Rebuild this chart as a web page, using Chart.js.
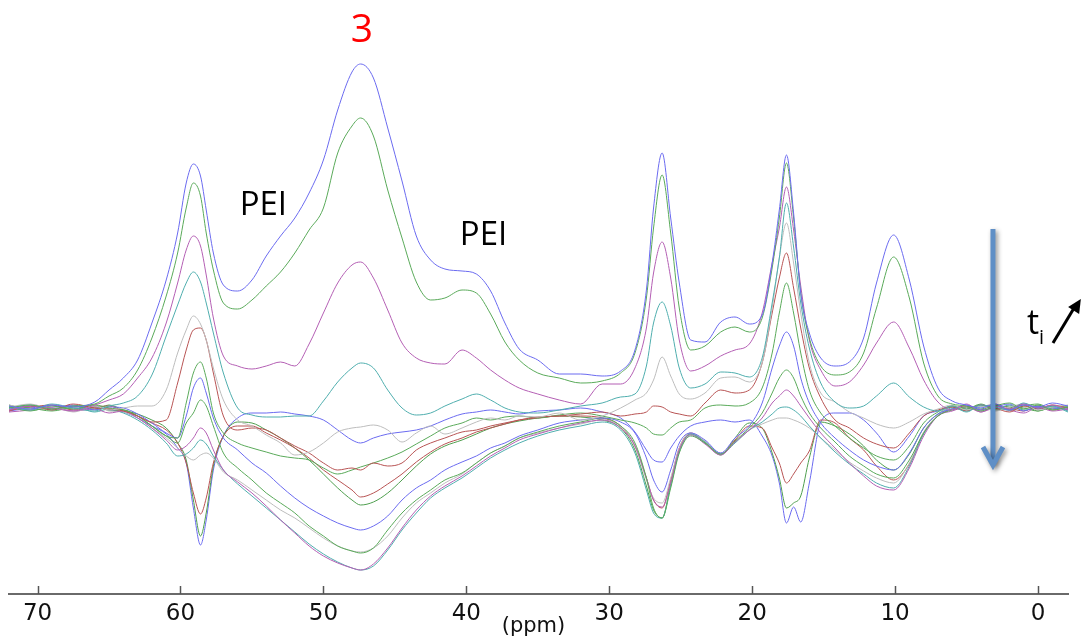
<!DOCTYPE html>
<html>
<head>
<meta charset="utf-8">
<title>13C NMR spectra vs time</title>
<script src="https://cdn.jsdelivr.net/npm/chart.js@4.4.1/dist/chart.umd.min.js"></script>
<style>
    html, body { margin: 0; padding: 0; background: #ffffff; }
    #wrap { width: 1084px; height: 637px; position: relative; }
</style>
</head>
<body>
<div id="wrap"><canvas id="nmrChart"></canvas></div>
<script>
// Chemical shift grid (ppm), shared by every trace
const ppm = [72, 70.5, 69, 67.5, 66, 65, 64, 63, 62, 61,
    60.2, 59.6, 59.1, 58.6, 58.2, 57.7, 57, 56, 55, 54,
    53, 52, 51, 50, 49, 48, 47.4, 46.5, 45.5, 44.5,
    43.5, 42.5, 41.5, 40.3, 39.3, 38.3, 37.3, 36.3, 35, 33.5,
    32, 30.5, 29.2, 28.2, 27.4, 26.9, 26.3, 25.7, 25.1, 24.3,
    23.3, 22.2, 21.2, 20.2, 19.3, 18.6, 18.1, 17.6, 17.1, 16.6,
    16, 15.2, 14.2, 13.2, 12.2, 11.3, 10.1, 9, 8, 7,
    6, 5, 4, 3, 2, 1, 0, -1, -2.1];

// Intensities (arbitrary units), first spectrum on top
const t01 = [2, -1, 3, 1, 6, 18, 30, 48, 85, 128,
    175, 225, 244, 232, 198, 155, 123, 117, 128, 152,
    172, 190, 215, 248, 298, 336, 344, 330, 280, 227,
    172, 148, 139, 137, 134, 117, 85, 59, 48, 34,
    34, 32, 37, 58, 118, 200, 255, 190, 125, 68,
    66, 86, 91, 84, 93, 145, 198, 253, 195, 115,
    75, 50, 42, 46, 70, 125, 173, 128, 62, 20,
    7, 3, 0, 4, -2, 3, 1, 5, 2];
const t02 = [0, 3, -1, 2, 4, 12, 20, 38, 70, 112,
    155, 200, 225, 212, 175, 138, 105, 99, 108, 122,
    136, 155, 178, 200, 255, 282, 290, 272, 218, 170,
    126, 108, 110, 118, 115, 94, 66, 48, 35, 30,
    25, 27, 35, 55, 110, 180, 233, 175, 100, 58,
    62, 76, 81, 76, 90, 140, 190, 245, 190, 115,
    70, 42, 33, 36, 55, 100, 151, 110, 45, 12,
    4, 2, -3, 2, 5, -1, 3, -2, 1];
const t03 = [-2, 2, 0, -3, 3, 8, 14, 30, 50, 85,
    125, 158, 172, 162, 133, 90, 52, 42, 39, 42,
    46, 42, 64, 95, 125, 143, 146, 130, 98, 65,
    50, 45, 44, 58, 50, 38, 28, 20, 14, 8,
    4, 24, 24, 40, 80, 135, 166, 130, 68, 37,
    42, 52, 58, 64, 95, 145, 180, 221, 178, 122,
    68, 38, 22, 26, 43, 65, 86, 60, 28, 6,
    -2, 4, -4, 2, -1, 4, 0, 3, -2];
const t04 = [1, -2, 4, 0, -3, 2, 5, 12, 33, 72,
    103, 125, 136, 126, 105, 75, 35, 0, -7, -9,
    -9, -8, -8, 7, 26, 40, 45, 40, 18, 0,
    -7, -5, 2, 9, 14, 8, 0, -4, -5, -2,
    2, 5, 11, 14, 42, 85, 106, 82, 40, 20,
    24, 36, 35, 31, 50, 105, 150, 205, 161, 105,
    60, 25, 6, 0, 2, 12, 25, 11, 1, -3,
    2, -4, 3, 1, -2, 5, 0, 2, -3];
const t05 = [3, -1, 1, -4, 2, -2, 0, 2, 2, 18,
    55, 78, 92, 84, 68, 40, 8, -12, -18, -27,
    -35, -47, -44, -35, -24, -20, -19, -17, -22, -34,
    -25, -18, -26, -20, -14, -10, -12, -8, -9, -5,
    -12, -8, 0, 8, 15, 28, 51, 32, 14, 9,
    15, 30, 31, 26, 45, 100, 150, 185, 145, 95,
    45, 15, 6, -4, -10, -16, -20, -14, -6, -1,
    3, -2, 2, -3, 1, 4, -2, 1, 3];
const t06 = [-3, 2, -2, 4, 0, -1, -3, -8, -14, -12,
    25, 58, 78, 80, 68, 35, -8, -22, -20, -22,
    -30, -38, -45, -55, -62, -60, -62, -55, -58, -55,
    -42, -35, -30, -24, -22, -18, -15, -12, -9, -8,
    -6, -4, -8, -6, -4, 2, 1, -4, -6, -8,
    5, 18, 15, 18, 45, 95, 130, 155, 120, 80,
    40, 10, -12, -20, -30, -36, -40, -25, -8, -2,
    1, -3, 3, 0, -4, 2, -1, 3, 0];
const t07 = [1, -3, 2, -1, 3, 0, -2, -8, -18, -28,
    -30, 5, 35, 46, 30, -5, -25, -35, -40, -44,
    -48, -50, -52, -60, -66, -62, -59, -55, -50, -44,
    -36, -28, -20, -15, -10, -12, -9, -8, -10, -7,
    -5, -8, -12, -15, -20, -26, -27, -20, -14, -12,
    0, 3, 2, 5, 20, 55, 95, 125, 95, 55,
    18, -5, -18, -30, -40, -48, -52, -38, -15, -4,
    2, -1, 4, -2, 0, 3, -3, 1, 2];
const t08 = [-1, 2, 0, 3, -2, 1, 0, -6, -15, -25,
    -30, -8, 20, 30, 15, -10, -30, -42, -55, -65,
    -78, -90, -100, -108, -115, -120, -122, -118, -108, -92,
    -80, -72, -62, -54, -48, -40, -35, -28, -22, -15,
    -12, -10, -14, -25, -50, -72, -84, -62, -35, -25,
    -32, -45, -30, -18, 5, 40, 62, 76, 62, 30,
    5, -15, -30, -42, -52, -58, -62, -45, -20, -6,
    -1, 3, -2, 1, 4, -3, 2, 0, -1];
const t09 = [2, 0, -3, 1, 2, -2, -2, -8, -18, -28,
    -35, -15, -5, 8, 2, -18, -45, -60, -72, -85,
    -95, -105, -118, -128, -138, -143, -145, -140, -122, -105,
    -92, -82, -72, -65, -55, -45, -38, -30, -24, -18,
    -14, -10, -18, -35, -70, -100, -110, -80, -45, -28,
    -35, -46, -33, -20, -5, 15, 30, 38, 30, 12,
    -5, -20, -34, -48, -58, -66, -70, -52, -25, -8,
    -2, 1, -1, 3, -2, 2, 4, -1, 1];
const t10 = [-4, -2, 1, -3, -1, -5, -3, -10, -20, -32,
    -42, -38, -30, -20, -25, -42, -62, -74, -85, -98,
    -112, -125, -138, -148, -155, -160, -162, -156, -140, -120,
    -102, -88, -78, -68, -58, -48, -40, -32, -26, -20,
    -15, -12, -20, -38, -70, -92, -99, -75, -42, -27,
    -36, -47, -34, -22, -10, 5, 12, 18, 12, 2,
    -10, -25, -40, -55, -68, -78, -82, -60, -28, -8,
    -3, 1, -4, 0, -2, -5, 1, -3, -1];
const t11 = [0, 3, -2, 2, -4, -1, -5, -12, -22, -35,
    -48, -46, -40, -32, -36, -48, -62, -76, -88, -100,
    -112, -124, -136, -146, -154, -160, -162, -158, -142, -122,
    -105, -90, -80, -70, -60, -50, -42, -35, -28, -22,
    -18, -14, -22, -45, -82, -105, -110, -78, -44, -26,
    -34, -46, -35, -22, -14, -6, 0, 1, -2, -8,
    -18, -30, -44, -56, -66, -75, -80, -58, -26, -8,
    0, -3, 2, -1, 3, -2, 0, 2, -4];
const t12 = [1, 4, -1, 0, 3, -3, -4, -10, -20, -30,
    -40, -48, -52, -47, -45, -50, -64, -72, -82, -92,
    -102, -110, -120, -130, -138, -143, -144, -140, -128, -110,
    -95, -85, -75, -66, -55, -45, -38, -30, -25, -20,
    -16, -12, -18, -38, -72, -90, -95, -70, -40, -25,
    -33, -45, -34, -22, -16, -12, -10, -10, -12, -15,
    -20, -30, -42, -54, -63, -70, -75, -55, -24, -7,
    2, -2, 1, 4, -3, 0, 3, -1, 2];
const t13 = [-2, 1, 3, -2, 1, 2, -3, -8, -15, -22,
    -35, -55, -85, -106, -90, -55, -28, -18, -18, -25,
    -32, -40, -50, -62, -72, -82, -89, -85, -76, -66,
    -54, -44, -36, -30, -24, -20, -16, -12, -10, -8,
    -8, -10, -18, -38, -70, -92, -100, -72, -40, -25,
    -34, -46, -32, -18, -20, -40, -55, -75, -66, -55,
    -43, -12, -15, -30, -42, -58, -72, -56, -25, -8,
    -1, 2, -2, 3, 0, -3, 2, -2, 1];
const t14 = [3, -2, 0, 2, -1, 3, -2, -6, -12, -20,
    -35, -52, -92, -128, -105, -58, -28, -14, -15, -22,
    -30, -40, -52, -66, -80, -92, -97, -94, -85, -72,
    -58, -46, -38, -32, -26, -20, -16, -13, -10, -8,
    -9, -12, -20, -42, -78, -102, -110, -76, -42, -26,
    -35, -47, -30, -15, -20, -45, -70, -100, -95, -88,
    -50, -14, -18, -26, -38, -52, -62, -46, -20, -6,
    1, -2, 3, -1, 2, 0, -3, 2, 0];
const t15 = [-3, 0, 2, -1, 1, -2, -4, -10, -18, -26,
    -40, -55, -100, -137, -112, -62, -28, -10, -5, -5,
    -4, -6, -8, -12, -22, -32, -35, -30, -26, -24,
    -22, -18, -12, -6, -4, -2, -4, -6, -3, -2,
    0, -4, -10, -24, -42, -52, -54, -40, -28, -18,
    -14, -12, -14, -12, -28, -48, -75, -115, -99, -114,
    -75, -14, -5, -5, -12, -25, -44, -28, -8, -3,
    2, -1, 3, 0, -2, 4, -1, 1, -2];

const traces = [t01, t02, t03, t04, t05, t06, t07, t08, t09, t10, t11, t12, t13, t14, t15];
const traceColors = ['#6b6bf0', '#5aaa5a', '#b45fb4', '#4faeae', '#bdbdbd', '#b85454', '#5aaa5a',
    '#6b6bf0', '#5aaa5a', '#b45fb4', '#4faeae', '#bdbdbd', '#b85454', '#4f9f4f', '#6b6bf0'];

// Axis
const tickValues = [70, 60, 50, 40, 30, 20, 10, 0];
const axisTitle = '(ppm)';

// Annotations, placed in (ppm, intensity) coordinates
const notes = [
    {text: '3', ppm: 47.3, y: 377, size: 39, color: '#ff0000'},
    {text: 'PEI', ppm: 54.2, y: 202, size: 33, color: '#000000'},
    {text: 'PEI', ppm: 38.8, y: 172, size: 33, color: '#000000'},
    {text: 't', ppm: 0.35, y: 84, size: 34, color: '#000000'},
    {text: 'i', ppm: -0.25, y: 70, size: 20, color: '#000000'}
];

const datasets = traces.map((vals, i) => ({
    label: 'spectrum ' + (i + 1),
    data: vals.map((v, j) => ({x: ppm[j], y: v})),
    borderColor: traceColors[i],
    borderWidth: 1,
    pointRadius: 0,
    fill: false,
    cubicInterpolationMode: 'monotone'
}));

const overlay = {
    id: 'overlay',
    afterDraw(chart) {
        const c = chart.ctx;
        const xs = chart.scales.x;
        const ys = chart.scales.y;
        const bottom = chart.chartArea.bottom;

        // ticks point up into the plot
        c.save();
        c.strokeStyle = '#555555';
        c.lineWidth = 1.5;
        tickValues.forEach(v => {
            const px = Math.round(xs.getPixelForValue(v)) + 0.5;
            c.beginPath();
            c.moveTo(px, bottom);
            c.lineTo(px, bottom - 8);
            c.stroke();
        });

        // axis title, squeezed between the 40 and 30 labels
        c.fillStyle = '#111111';
        c.font = '21px "DejaVu Sans"';
        c.textAlign = 'center';
        c.textBaseline = 'middle';
        c.fillText(axisTitle, xs.getPixelForValue(35.3), bottom + 33);

        // labels
        notes.forEach(n => {
            c.fillStyle = n.color;
            c.font = n.size + 'px "Open Sans"';
            c.fillText(n.text, xs.getPixelForValue(n.ppm), ys.getPixelForValue(n.y));
        });

        // black arrow next to t_i
        const ax0 = xs.getPixelForValue(-1.05), ay0 = ys.getPixelForValue(65);
        const ax1 = xs.getPixelForValue(-3.0), ay1 = ys.getPixelForValue(109);
        c.strokeStyle = '#000000';
        c.fillStyle = '#000000';
        c.lineWidth = 3;
        c.beginPath();
        c.moveTo(ax0, ay0);
        c.lineTo(ax1 - 5, ay1 + 6);
        c.stroke();
        const ang = Math.atan2(ay1 - ay0, ax1 - ax0);
        c.beginPath();
        c.moveTo(ax1, ay1);
        c.lineTo(ax1 - 15 * Math.cos(ang - 0.45), ay1 - 15 * Math.sin(ang - 0.45));
        c.lineTo(ax1 - 15 * Math.cos(ang + 0.45), ay1 - 15 * Math.sin(ang + 0.45));
        c.closePath();
        c.fill();

        // blue time arrow
        const bx = xs.getPixelForValue(3.15);
        const bTop = ys.getPixelForValue(179);
        const bTip = ys.getPixelForValue(-57);
        c.shadowColor = 'rgba(0,0,0,0.45)';
        c.shadowBlur = 5;
        c.shadowOffsetX = 2;
        c.shadowOffsetY = 2;
        c.strokeStyle = '#5f8fc6';
        c.lineWidth = 5;
        c.lineCap = 'butt';
        c.beginPath();
        c.moveTo(bx, bTop);
        c.lineTo(bx, bTip - 2);
        c.stroke();
        c.lineJoin = 'miter';
        c.beginPath();
        c.moveTo(bx - 10, bTip - 18);
        c.lineTo(bx, bTip);
        c.lineTo(bx + 10, bTip - 18);
        c.stroke();
        c.restore();
    }
};

new Chart(document.getElementById('nmrChart'), {
    type: 'line',
    data: {datasets: datasets},
    options: {
        responsive: true,
        maintainAspectRatio: false,
        animation: false,
        devicePixelRatio: 1,
        layout: {padding: {left: 9, right: 16, top: 0, bottom: 0}},
        plugins: {
            legend: {display: false},
            tooltip: {enabled: false}
        },
        scales: {
            x: {
                type: 'linear',
                reverse: true,
                min: -2.1,
                max: 72,
                afterFit: (scale) => { scale.height = 43; },
                afterBuildTicks: (scale) => {
                    scale.ticks = tickValues.map(v => ({value: v}));
                },
                grid: {display: false, drawTicks: false},
                border: {display: true, color: '#6a6a6a', width: 2},
                ticks: {
                    color: '#111111',
                    padding: 6,
                    maxRotation: 0,
                    autoSkip: false,
                    font: {family: 'DejaVu Sans', size: 23}
                }
            },
            y: {
                display: false,
                min: -186,
                max: 408
            }
        }
    },
    plugins: [overlay]
});
</script>
</body>
</html>
